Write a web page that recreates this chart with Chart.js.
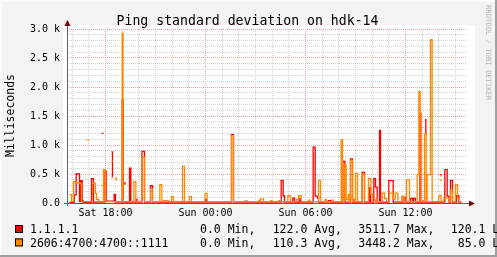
<!DOCTYPE html>
<html>
<head>
<meta charset="utf-8">
<script src="https://cdn.jsdelivr.net/npm/chart.js@4"></script>
<style>
  html, body { margin: 0; padding: 0; background: #f3f3f3; }
  #wrap { width: 497px; height: 257px; }
</style>
</head>
<body>
<div id="wrap"><canvas id="ping"></canvas></div>
<script>
// time axis in hours counted from Sat 00:00, values in milliseconds
const hourTicks = [16, 17, 18, 19, 20, 21, 22, 23, 24, 25, 26, 27, 28, 29, 30, 31, 32, 33, 34, 35, 36, 37, 38, 39];
const dayLabels = { 18: 'Sat 18:00', 24: 'Sun 00:00', 30: 'Sun 06:00', 36: 'Sun 12:00' };

// 1.1.1.1
const redHours = [15.84, 16.12, 16.24, 16.44, 16.52, 16.60, 16.65, 17.16, 17.28, 17.97,
  18.04, 18.52, 18.60, 19.00, 19.06, 19.44, 19.52, 19.84, 19.89, 20.19,
  20.34, 20.70, 20.82, 24.00, 24.06, 25.56, 25.68, 28.54, 28.66, 28.74,
  29.24, 29.34, 29.62, 29.70, 30.46, 30.58, 30.72, 30.78, 31.38, 31.50,
  32.24, 32.36, 32.70, 32.82, 33.40, 33.54, 33.82, 33.90, 34.10, 34.20,
  34.30, 34.44, 34.50, 35.00, 35.26, 35.86, 35.98, 36.30, 36.42, 36.48,
  36.60, 36.86, 36.92, 38.36, 38.50, 38.60, 38.70, 38.82, 39.06, 39.20, 39.36];
const redMs = [10, 140, 500, 25, 385, 40, 10, 420, 15, 550,
  30, 150, 15, 1780, 15, 600, 15, 60, 15, 890,
  15, 300, 15, 60, 15, 1180, 15, 390, 125, 15,
  85, 15, 70, 15, 965, 120, 85, 15, 40, 15,
  717, 15, 760, 15, 528, 15, 260, 15, 420, 275,
  15, 1250, 15, 385, 15, 97, 15, 80, 15, 80,
  15, 1550, 15, 575, 120, 15, 390, 15, 125, 15, 15];
// isolated samples (unknown on both sides)
const redDashHours = [17.76, 17.88, 17.89, 18.36, 18.42, 18.45, 18.46, 19.10, 19.22, 19.23, 37.16, 37.22, 37.28, 37.29, 38.08, 38.16];
const redDashMs = [1200, 1200, null, 880, 460, 460, null, 345, 345, null, 1435, 1205, 1205, null, 490, 490];

// 2606:4700:4700::1111
const orangeHours = [15.84, 15.96, 16.08, 16.20, 16.50, 16.56, 17.22, 17.40, 17.46, 17.60,
  17.88, 18.00, 19.00, 19.05, 19.70, 19.82, 20.19, 20.34, 20.70, 20.82,
  21.26, 21.38, 21.48, 21.78, 21.96, 22.08, 22.62, 22.74, 23.04, 23.16,
  23.97, 24.10, 25.56, 25.68, 26.34, 26.52, 27.18, 27.24, 27.30, 27.48,
  27.90, 28.00, 28.38, 28.46, 28.94, 29.10, 29.46, 29.58, 29.74, 30.18,
  30.26, 30.78, 30.90, 31.18, 31.26, 31.56, 31.66, 32.14, 32.22, 32.35,
  32.44, 32.56, 32.62, 32.70, 32.82, 32.88, 32.94, 33.00, 33.12, 33.40,
  33.54, 33.78, 33.92, 34.02, 34.20, 34.28, 34.60, 34.74, 34.86, 35.04,
  35.26, 35.38, 35.54, 35.78, 35.90, 36.06, 36.24, 36.70, 36.80, 36.88,
  37.02, 37.10, 37.14, 37.24, 37.30, 37.50, 37.60, 38.00, 38.14, 38.30,
  38.60, 38.70, 38.82, 39.00, 39.12, 39.22, 39.36];
const orangeMs = [143, 25, 370, 345, 330, 25, 340, 170, 60, 25,
  575, 25, 2930, 25, 370, 25, 790, 25, 240, 25,
  315, 25, 40, 25, 110, 25, 630, 25, 110, 25,
  165, 25, 1160, 25, 35, 25, 45, 25, 70, 25,
  40, 25, 40, 25, 125, 25, 60, 125, 25, 50,
  25, 390, 25, 60, 25, 50, 25, 1090, 25, 660,
  60, 150, 25, 740, 25, 60, 25, 510, 25, 495,
  25, 420, 150, 25, 60, 25, 170, 75, 25, 170,
  60, 170, 25, 120, 25, 400, 25, 490, 1925, 25,
  40, 25, 1190, 25, 490, 2815, 25, 130, 25, 85,
  25, 220, 25, 315, 90, 25, 25];
const orangeDashHours = [16.86, 17.02, 17.03, 17.76, 17.88, 17.89, 18.36, 18.44, 18.45, 18.36, 18.44, 18.45,
  18.56, 18.70, 18.71, 18.58, 18.70, 18.71, 19.10, 19.22, 19.23, 38.06, 38.18, 38.19, 38.10, 38.20];
const orangeDashMs = [1090, 1090, null, 300, 300, null, 717, 717, null, 440, 440, null,
  430, 430, null, 400, 400, null, 320, 320, null, 390, 390, null, 470, 470];

const RED = '#ff0000';
const ORANGE = '#ff8800';
const MONO = '"DejaVu Sans Mono", monospace';

const pts = (hs, vs) => hs.map((h, i) => ({ x: h, y: vs[i] }));

function stepLine(data, color, order) {
  return {
    data: data,
    borderColor: color,
    borderWidth: 1.3,
    stepped: true,
    pointRadius: 0,
    fill: false,
    spanGaps: false,
    order: order
  };
}

const decor = {
  id: 'decor',
  beforeDraw(chart) {
    const { ctx, chartArea: a, width, height } = chart;
    ctx.save();
    ctx.fillStyle = '#f3f3f3';
    ctx.fillRect(0, 0, width, height);
    ctx.fillStyle = '#fbfbfb';
    ctx.fillRect(0, 0, width, 2);
    ctx.fillRect(0, 0, 2, height);
    ctx.fillStyle = '#a0a0a0';
    ctx.fillRect(0, height - 2, width, 2);
    ctx.fillRect(width - 2, 0, 2, height);
    ctx.fillStyle = '#ffffff';
    ctx.fillRect(a.left - 4, a.top - 4, a.right - a.left + 12, a.bottom - a.top + 8);
    ctx.restore();
  },
  afterDatasetsDraw(chart) {
    const { ctx, chartArea: a } = chart;
    ctx.save();
    // axes
    ctx.strokeStyle = '#606060';
    ctx.lineWidth = 1;
    ctx.beginPath();
    ctx.moveTo(a.left + 0.5, a.bottom + 3);
    ctx.lineTo(a.left + 0.5, a.top - 6);
    ctx.moveTo(a.left - 3, a.bottom + 0.5);
    ctx.lineTo(a.right + 3, a.bottom + 0.5);
    ctx.stroke();
    // arrows
    ctx.fillStyle = '#7f0000';
    ctx.beginPath();
    ctx.moveTo(a.left + 0.5, a.top - 9);
    ctx.lineTo(a.left + 3.5, a.top - 3);
    ctx.lineTo(a.left - 2.5, a.top - 3);
    ctx.closePath();
    ctx.fill();
    ctx.beginPath();
    ctx.moveTo(a.right + 8, a.bottom + 0.5);
    ctx.lineTo(a.right + 2, a.bottom + 3.5);
    ctx.lineTo(a.right + 2, a.bottom - 2.5);
    ctx.closePath();
    ctx.fill();

    // title
    ctx.fillStyle = '#000';
    ctx.font = '13.2px ' + MONO;
    ctx.textAlign = 'center';
    ctx.textBaseline = 'alphabetic';
    ctx.fillText('Ping standard deviation on hdk-14', 247.5, 24.5);

    // y title
    ctx.save();
    ctx.translate(11.5, 115.5);
    ctx.rotate(-Math.PI / 2);
    ctx.font = '11.5px ' + MONO;
    ctx.textBaseline = 'middle';
    ctx.fillText('Milliseconds', 0, 0);
    ctx.restore();

    // watermark
    ctx.save();
    ctx.translate(488, 5);
    ctx.rotate(Math.PI / 2);
    ctx.font = '7.2px ' + MONO;
    ctx.fillStyle = '#b4b4b4';
    ctx.textAlign = 'left';
    ctx.textBaseline = 'middle';
    ctx.fillText('RRDTOOL / TOBI OETIKER', 0, 0);
    ctx.restore();

    // legend
    const rows = [
      { color: RED, y: 233.3, parts: ['1.1.1.1', '0.0 Min,', '122.0 Avg,', '3511.7 Max,', '120.1 Last'] },
      { color: ORANGE, y: 246.7, parts: ['2606:4700:4700::1111', '0.0 Min,', '110.3 Avg,', '3448.2 Max,', ' 85.0 Last'] }
    ];
    const cols = [30, 200, 272.7, 358.3, 450.8];
    ctx.font = '11.5px ' + MONO;
    ctx.textAlign = 'left';
    ctx.textBaseline = 'alphabetic';
    rows.forEach(r => {
      ctx.fillStyle = r.color;
      ctx.fillRect(15, r.y - 8.3, 8, 8);
      ctx.strokeStyle = '#000';
      ctx.strokeRect(15.5, r.y - 7.8, 7, 7);
      ctx.fillStyle = '#000';
      r.parts.forEach((p, i) => ctx.fillText(p, cols[i], r.y));
    });
    ctx.restore();
  }
};

new Chart(document.getElementById('ping').getContext('2d'), {
  type: 'line',
  data: {
    datasets: [
      stepLine(pts(redHours, redMs), RED, 3),
      stepLine(pts(redDashHours, redDashMs), RED, 2),
      stepLine(pts(orangeHours, orangeMs), ORANGE, 1),
      stepLine(pts(orangeDashHours, orangeDashMs), ORANGE, 0)
    ]
  },
  options: {
    responsive: true,
    maintainAspectRatio: false,
    animation: false,
    layout: { padding: { top: 29, right: 30, bottom: 0, left: 0 } },
    plugins: { legend: { display: false }, tooltip: { enabled: false } },
    scales: {
      x: {
        type: 'linear',
        min: 15.69,
        max: 39.69,
        afterBuildTicks: s => { s.ticks = hourTicks.map(v => ({ value: v })); },
        afterFit: s => { s.height = 54; },
        ticks: {
          autoSkip: false,
          maxRotation: 0,
          padding: 4,
          color: '#000',
          font: { family: 'DejaVu Sans Mono', size: 10 },
          callback: v => dayLabels[v] || ''
        },
        grid: {
          drawTicks: false,
          color: c => (c.tick && c.tick.value % 6 === 0) ? '#eba3a3' : '#d2d2d2'
        },
        border: { display: false, dash: [1, 1] }
      },
      y: {
        min: 0,
        max: 3000,
        afterFit: s => { s.width = 67; },
        ticks: {
          stepSize: 100,
          autoSkip: false,
          padding: 7,
          color: '#000',
          font: { family: 'DejaVu Sans Mono', size: 10 },
          callback: v => v % 500 === 0 ? (v === 0 ? '0.0' : (v / 1000).toFixed(1) + ' k') : ''
        },
        grid: {
          drawTicks: false,
          color: c => (c.tick && c.tick.value % 500 === 0) ? '#eba3a3' : '#d2d2d2'
        },
        border: { display: false, dash: [1, 1] }
      }
    }
  },
  plugins: [decor]
});
</script>
</body>
</html>
